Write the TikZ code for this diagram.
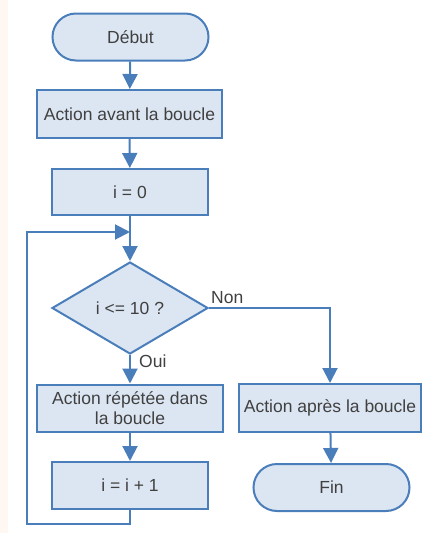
\documentclass[tikz,border=0pt]{standalone}
\usepackage{fontspec}
\setmainfont{Liberation Sans}
\usetikzlibrary{shapes.geometric,arrows.meta}
\definecolor{boxfill}{HTML}{DCE6F2}
\definecolor{boxline}{HTML}{4A7EBB}
\definecolor{txt}{HTML}{404040}
\definecolor{strip}{HTML}{FEF7F2}
\begin{document}
\begin{tikzpicture}[x=1pt,y=-1pt,
  every node/.style={font=\fontsize{17.5}{20.5}\selectfont, text=txt},
  base/.style={draw=boxline, fill=boxfill, line width=2pt, inner sep=0pt, anchor=center},
  procbox/.style={base, rectangle},
  termbox/.style={base, rectangle, rounded corners=23.5pt, minimum width=156pt, minimum height=47pt},
  decbox/.style={base, diamond, aspect=1.7, minimum width=156pt, minimum height=92pt},
  conn/.style={draw=boxline, line width=2pt},
  arr/.style={conn, -{Triangle[length=15pt,width=15pt]}},
  lbl/.style={inner sep=0pt}
]
\useasboundingbox (0,0) rectangle (423,533);
\fill[strip] (0,0) rectangle (8,533);

\node[termbox] (debut) at (130.5,37) {Début};
\node[procbox, minimum width=185pt, minimum height=48pt] (avant) at (129.5,114) {Action avant la boucle};
\node[procbox, minimum width=156pt, minimum height=46pt] (izero) at (130,192) {i = 0};
\node[decbox] (dec) at (130,308) {i <= 10 ?};
\node[procbox, minimum width=186pt, minimum height=47pt, align=center] (rep) at (130,408) {Action répétée dans\\la boucle};
\node[procbox, minimum width=156pt, minimum height=47pt] (incr) at (130,485.5) {i = i + 1};
\node[procbox, minimum width=182pt, minimum height=48pt] (apres) at (330,408) {Action après la boucle};
\node[termbox] (fin) at (331.5,487.5) {Fin};

\coordinate (join) at (130,232);
\coordinate (loopL) at (27,524);

\draw[arr] (debut) -- (avant);
\draw[arr] (avant) -- (izero);
\draw[arr] (izero) -- (dec);
\draw[arr] (dec.south) -- (rep.north);
\draw[arr] (rep) -- (incr);
\draw[arr] (dec.east) -| (apres.north);
\draw[arr] (apres) -- (fin);
\draw[arr] (incr.south) |- (loopL) |- (join);

\node[lbl, anchor=south west] (non) at (211,304) {Non};
\node[lbl, anchor=west] (oui) at (139,361) {Oui};
\end{tikzpicture}
\end{document}
